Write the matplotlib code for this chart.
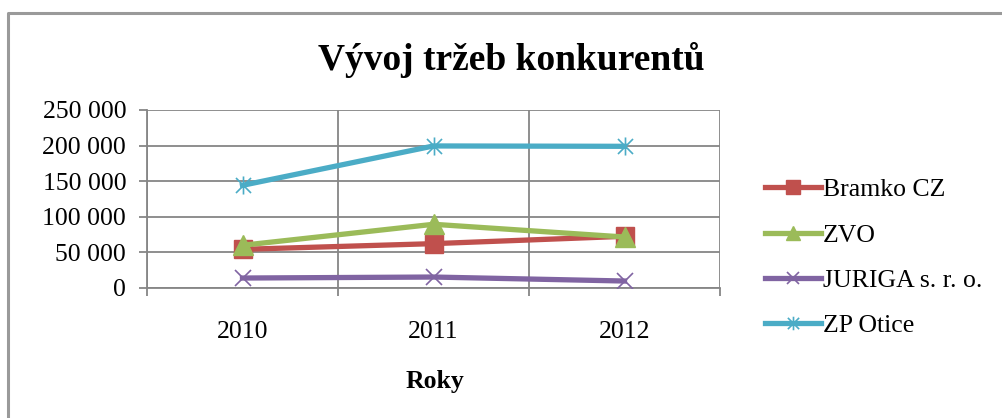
import matplotlib.pyplot as plt
from matplotlib.lines import Line2D
from matplotlib.path import Path
from matplotlib.ticker import FuncFormatter
import numpy as np

plt.rcParams['font.family'] = ['Liberation Serif', 'DejaVu Serif']

years = ['2010', '2011', '2012']
bramko = [54300, 62300, 72600]
zvo = [60000, 89500, 71600]
juriga = [14000, 15400, 9800]
zp_otice = [144200, 199500, 199000]

series_names = ['Bramko CZ', 'ZVO', 'JURIGA s. r. o.', 'ZP Otice']
colors = ['#C0504D', '#9BBB59', '#8064A2', '#4BACC6']

# excel-like star: an x with a vertical bar through it
star = Path([(-1, -1), (1, 1), (-1, 1), (1, -1), (0, -1.2), (0, 1.2)],
            [Path.MOVETO, Path.LINETO, Path.MOVETO, Path.LINETO,
             Path.MOVETO, Path.LINETO])

fig = plt.figure(figsize=(10.02, 4.18), dpi=100)
W, H = 1002.0, 418.0

# chart frame (only top/left edges are visible in the crop)
fig.add_artist(Line2D([8 / W, 8 / W, 1.0], [0.0, 1 - 13 / H, 1 - 13 / H],
                      transform=fig.transFigure, color='#9a9a9a', lw=2.2))

ax = fig.add_axes([147 / W, 1 - 288 / H, (720 - 147) / W, (288 - 110) / H])

x = np.arange(len(years))
ax.plot(x, bramko, color=colors[0], lw=3.8, marker='s', ms=13,
        mec=colors[0], mfc=colors[0], label=series_names[0], zorder=3)
ax.plot(x, zvo, color=colors[1], lw=3.8, marker='^', ms=14,
        mec=colors[1], mfc=colors[1], label=series_names[1], zorder=4)
ax.plot(x, juriga, color=colors[2], lw=3.8, marker='x', ms=12,
        mew=1.2, mec=colors[2], label=series_names[2], zorder=3)
ax.plot(x, zp_otice, color=colors[3], lw=3.8, marker=star, ms=13,
        mew=1.2, mec=colors[3], mfc='none', label=series_names[3], zorder=3)

ax.set_xlim(-0.5, len(years) - 0.5)
ax.set_ylim(0, 250000)
ax.set_yticks(np.arange(0, 250001, 50000))
ax.yaxis.set_major_formatter(FuncFormatter(lambda v, p: f'{int(v):,}'.replace(',', ' ')))

ax.set_xticks(x)
ax.set_xticklabels(years)
ax.set_xticks(np.arange(-0.5, len(years), 1.0), minor=True)

grid_c = '#868686'
ax.grid(True, which='minor', axis='x', color=grid_c, lw=1.3)
ax.grid(True, which='major', axis='y', color=grid_c, lw=1.3)
ax.set_axisbelow(True)

for s in ['top', 'right']:
    ax.spines[s].set_visible(False)
for s in ['left', 'bottom']:
    ax.spines[s].set_color(grid_c)
    ax.spines[s].set_linewidth(1.3)

ax.tick_params(axis='y', which='major', length=6, width=1.3, color=grid_c,
               labelsize=18.5, pad=9)
ax.tick_params(axis='x', which='major', length=0, labelsize=18.5, pad=24)
ax.tick_params(axis='x', which='minor', length=6, width=1.3, color=grid_c)

fig.text(511 / W, 1 - 70 / H, 'Vývoj tržeb konkurentů', ha='center',
         va='baseline', fontsize=27, fontweight='bold')
fig.text(435 / W, 1 - 388 / H, 'Roky', ha='center', va='baseline',
         fontsize=18.5, fontweight='bold')

leg = ax.legend(loc='upper left', bbox_to_anchor=(755 / W, 1 - 168 / H),
                bbox_transform=fig.transFigure, frameon=False,
                fontsize=18.5, handlelength=2.15, handletextpad=0.1,
                labelspacing=0.87, markerscale=0.75, borderaxespad=0)

fig.savefig('out.png', dpi=100)
